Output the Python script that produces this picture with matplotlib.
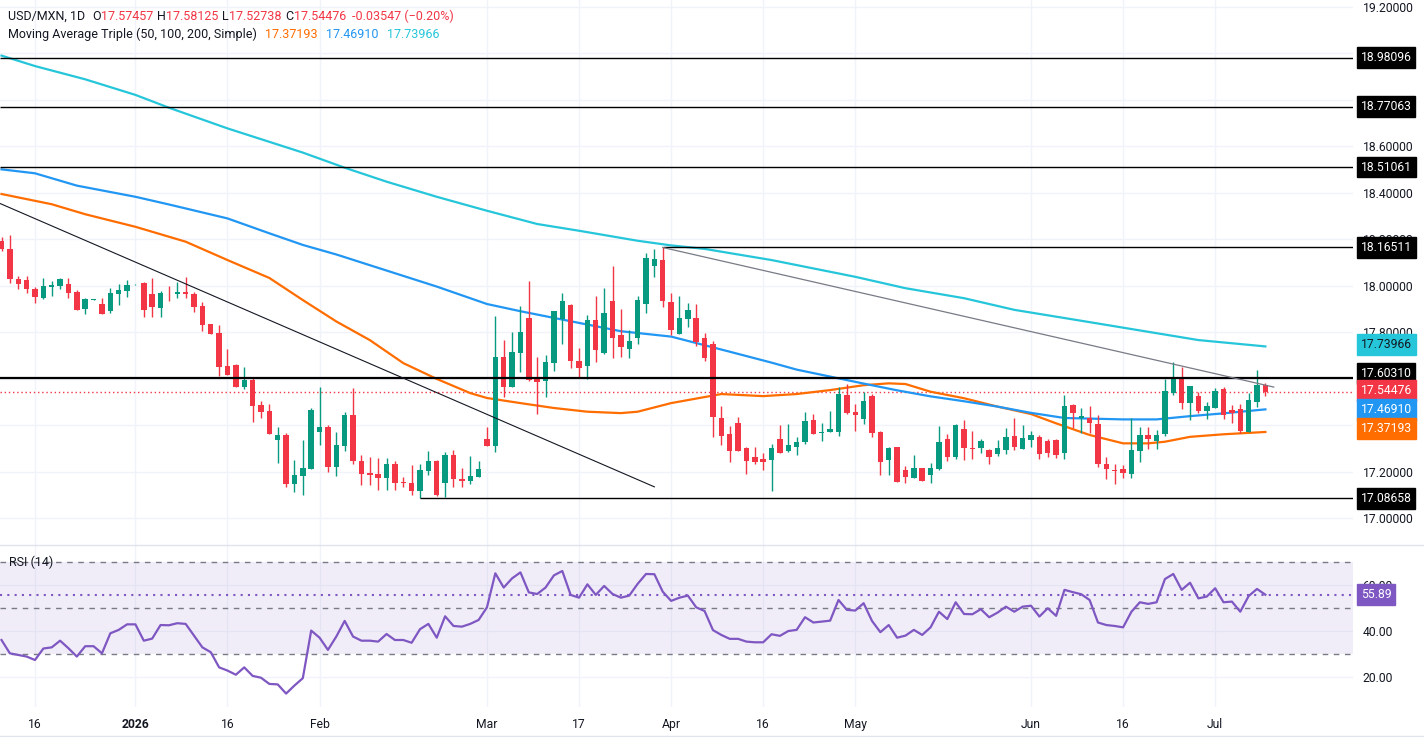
"""
USD/MXN daily candles with 50/100/200 SMA and RSI(14), TradingView style
"""

import numpy as np
import pandas as pd
import matplotlib
matplotlib.use('Agg')
import matplotlib.pyplot as plt
from matplotlib.lines import Line2D

plt.rcParams['font.family'] = ['Roboto', 'DejaVu Sans']

# ── Data ───────────────────────────────────────────────────────────────
DATES = pd.bdate_range('2025-12-10', periods=152)

OPEN = [
    18.194, 18.159, 18.028, 18.025, 17.985, 17.949, 17.997, 18.001, 18.008, 17.975,
    17.902, 17.941, 17.922, 17.892, 17.966, 17.979, 18.003, 18.014, 17.965, 17.906,
    17.970, 17.964, 17.974, 17.965, 17.913, 17.836, 17.797, 17.657, 17.661, 17.567,
    17.595, 17.488, 17.462, 17.337, 17.359, 17.150, 17.184, 17.213, 17.373, 17.393,
    17.220, 17.313, 17.445, 17.247, 17.194, 17.190, 17.175, 17.234, 17.158, 17.151,
    17.120, 17.206, 17.247, 17.154, 17.273, 17.170, 17.163, 17.180, 17.340, 17.313,
    17.694, 17.567, 17.713, 17.862, 17.598, 17.591, 17.667, 17.856, 17.918, 17.677,
    17.657, 17.853, 17.713, 17.935, 17.789, 17.730, 17.774, 17.923, 18.087, 18.111,
    17.931, 17.793, 17.859, 17.862, 17.774, 17.750, 17.431, 17.363, 17.410, 17.303,
    17.264, 17.256, 17.253, 17.340, 17.290, 17.306, 17.330, 17.423, 17.369, 17.373,
    17.373, 17.531, 17.458, 17.429, 17.528, 17.373, 17.251, 17.307, 17.208, 17.175,
    17.216, 17.188, 17.213, 17.340, 17.263, 17.383, 17.303, 17.304, 17.294, 17.277,
    17.294, 17.356, 17.300, 17.339, 17.350, 17.333, 17.336, 17.283, 17.488, 17.431,
    17.431, 17.406, 17.233, 17.208, 17.213, 17.193, 17.292, 17.357, 17.334, 17.365,
    17.538, 17.608, 17.495, 17.527, 17.463, 17.476, 17.557, 17.466, 17.471, 17.373,
    17.502, 17.57457,
]
HIGH = [
    18.210, 18.219, 18.042, 18.042, 17.997, 18.032, 18.021, 18.035, 18.032, 17.982,
    17.948, 17.944, 17.949, 17.991, 18.008, 18.025, 18.006, 18.018, 18.032, 17.979,
    17.999, 18.015, 18.040, 17.975, 17.932, 17.837, 17.832, 17.729, 17.664, 17.651,
    17.604, 17.507, 17.492, 17.395, 17.369, 17.253, 17.337, 17.474, 17.567, 17.402,
    17.373, 17.456, 17.562, 17.273, 17.266, 17.259, 17.259, 17.247, 17.180, 17.230,
    17.234, 17.292, 17.250, 17.284, 17.294, 17.216, 17.269, 17.247, 17.392, 17.870,
    17.767, 17.802, 17.913, 18.021, 17.693, 17.701, 17.894, 17.968, 17.920, 17.734,
    17.875, 17.956, 17.989, 18.085, 17.901, 17.810, 17.956, 18.143, 18.157, 18.165,
    17.971, 17.956, 17.925, 17.923, 17.796, 17.763, 17.484, 17.398, 17.436, 17.306,
    17.307, 17.280, 17.320, 17.402, 17.406, 17.350, 17.458, 17.451, 17.410, 17.462,
    17.564, 17.578, 17.492, 17.542, 17.535, 17.376, 17.309, 17.309, 17.226, 17.273,
    17.218, 17.240, 17.398, 17.363, 17.406, 17.422, 17.376, 17.343, 17.299, 17.337,
    17.387, 17.430, 17.402, 17.378, 17.359, 17.342, 17.342, 17.531, 17.494, 17.475,
    17.484, 17.443, 17.264, 17.234, 17.230, 17.431, 17.392, 17.392, 17.380, 17.598,
    17.671, 17.653, 17.571, 17.545, 17.502, 17.562, 17.567, 17.488, 17.492, 17.538,
    17.638, 17.58125,
]
LOW = [
    18.150, 18.011, 17.988, 17.968, 17.928, 17.944, 17.958, 17.988, 17.949, 17.896,
    17.881, 17.940, 17.881, 17.885, 17.919, 17.954, 18.002, 17.868, 17.868, 17.868,
    17.936, 17.949, 17.949, 17.889, 17.807, 17.795, 17.614, 17.618, 17.567, 17.558,
    17.416, 17.433, 17.363, 17.240, 17.134, 17.115, 17.101, 17.213, 17.316, 17.201,
    17.184, 17.292, 17.234, 17.144, 17.144, 17.122, 17.122, 17.122, 17.137, 17.101,
    17.087, 17.185, 17.098, 17.094, 17.134, 17.134, 17.147, 17.177, 17.313, 17.284,
    17.521, 17.565, 17.631, 17.593, 17.449, 17.521, 17.635, 17.750, 17.645, 17.605,
    17.598, 17.674, 17.706, 17.688, 17.696, 17.691, 17.749, 17.882, 18.037, 17.911,
    17.789, 17.792, 17.825, 17.742, 17.678, 17.352, 17.317, 17.244, 17.289, 17.193,
    17.236, 17.208, 17.120, 17.282, 17.287, 17.274, 17.322, 17.364, 17.334, 17.370,
    17.355, 17.449, 17.377, 17.406, 17.352, 17.187, 17.187, 17.157, 17.154, 17.175,
    17.162, 17.154, 17.208, 17.249, 17.256, 17.251, 17.256, 17.283, 17.234, 17.270,
    17.277, 17.294, 17.299, 17.309, 17.256, 17.266, 17.261, 17.256, 17.388, 17.369,
    17.369, 17.221, 17.171, 17.148, 17.175, 17.175, 17.244, 17.300, 17.300, 17.355,
    17.531, 17.471, 17.423, 17.455, 17.426, 17.475, 17.429, 17.412, 17.369, 17.370,
    17.481, 17.52738,
]
CLOSE = [
    18.157, 18.028, 18.007, 17.985, 17.951, 18.000, 18.004, 18.030, 17.971, 17.896,
    17.942, 17.943, 17.881, 17.969, 17.982, 18.004, 18.004, 17.896, 17.911, 17.969,
    17.968, 17.974, 17.966, 17.911, 17.832, 17.795, 17.653, 17.618, 17.567, 17.595,
    17.485, 17.459, 17.365, 17.359, 17.150, 17.187, 17.217, 17.466, 17.393, 17.220,
    17.316, 17.445, 17.249, 17.193, 17.188, 17.175, 17.234, 17.151, 17.151, 17.120,
    17.208, 17.247, 17.101, 17.273, 17.168, 17.163, 17.183, 17.213, 17.313, 17.694,
    17.567, 17.714, 17.802, 17.595, 17.588, 17.673, 17.892, 17.935, 17.678, 17.648,
    17.853, 17.726, 17.883, 17.777, 17.739, 17.764, 17.939, 18.118, 18.116, 17.935,
    17.810, 17.860, 17.895, 17.760, 17.688, 17.438, 17.356, 17.292, 17.290, 17.249,
    17.244, 17.244, 17.303, 17.283, 17.316, 17.329, 17.419, 17.365, 17.372, 17.385,
    17.535, 17.455, 17.446, 17.505, 17.366, 17.244, 17.303, 17.158, 17.180, 17.216,
    17.163, 17.216, 17.329, 17.266, 17.402, 17.304, 17.297, 17.333, 17.266, 17.302,
    17.350, 17.307, 17.346, 17.359, 17.279, 17.283, 17.274, 17.484, 17.455, 17.441,
    17.412, 17.236, 17.214, 17.206, 17.197, 17.294, 17.357, 17.342, 17.357, 17.548,
    17.600, 17.498, 17.570, 17.463, 17.484, 17.548, 17.445, 17.455, 17.376, 17.509,
    17.574, 17.54476,
]

RSI = [
    36.2, 30.4, 29.7, 29.0, 27.5, 32.5, 33.0, 35.9, 32.6, 29.0,
    33.5, 33.5, 30.4, 39.1, 40.6, 43.0, 43.0, 35.9, 36.8, 42.7,
    42.6, 43.5, 43.2, 38.1, 33.0, 30.9, 24.3, 22.9, 21.1, 24.3,
    20.6, 19.8, 17.1, 16.9, 12.9, 16.4, 19.6, 40.3, 37.2, 31.9,
    37.7, 44.5, 37.7, 35.9, 35.9, 35.5, 38.8, 36.2, 36.2, 35.0,
    40.9, 43.2, 37.2, 46.5, 42.3, 42.0, 43.2, 44.9, 50.4, 65.2,
    59.0, 63.0, 65.6, 56.9, 56.2, 59.0, 64.3, 66.2, 55.8, 54.6,
    60.4, 55.8, 59.7, 56.2, 54.6, 55.5, 60.6, 64.9, 64.8, 57.2,
    53.2, 54.6, 55.5, 50.4, 48.8, 40.5, 38.4, 36.7, 36.7, 35.5,
    35.2, 35.2, 38.7, 38.0, 40.1, 40.6, 46.1, 43.8, 44.2, 44.6,
    53.6, 49.3, 49.0, 52.2, 44.5, 39.6, 42.7, 37.2, 38.1, 40.6,
    38.4, 41.7, 48.5, 45.3, 52.6, 47.5, 47.4, 49.6, 46.1, 48.1,
    50.7, 48.5, 50.7, 51.1, 46.4, 50.0, 46.7, 58.0, 57.0, 56.1,
    53.6, 43.8, 42.7, 42.3, 41.7, 48.5, 52.6, 51.9, 52.6, 62.7,
    64.9, 58.0, 61.1, 54.3, 55.1, 58.7, 52.6, 52.9, 48.5, 55.3,
    58.4, 55.89,
]

# moving averages sampled at bar numbers
MA50_AT = [0, 6, 10, 16, 22, 27, 32, 36, 40, 44, 48, 52, 56, 58, 62, 66, 70, 74, 76, 80,
           86, 91, 95, 99, 103, 106, 108, 111, 115, 119, 123, 126, 130, 134, 137, 139,
           142, 146, 151]
MA50 = [18.395, 18.351, 18.308, 18.254, 18.190, 18.111, 18.034, 17.939, 17.847, 17.767,
        17.668, 17.600, 17.539, 17.518, 17.496, 17.475, 17.459, 17.453, 17.459, 17.496,
        17.535, 17.526, 17.535, 17.552, 17.573, 17.581, 17.578, 17.545, 17.517, 17.481,
        17.449, 17.409, 17.359, 17.323, 17.323, 17.330, 17.351, 17.362, 17.37193]
MA100_AT = [0, 4, 9, 16, 20, 27, 32, 36, 40, 46, 52, 58, 62, 68, 74, 80, 87, 92, 95, 99,
            103, 107, 111, 115, 119, 123, 127, 134, 138, 142, 146, 151]
MA100 = [18.501, 18.484, 18.431, 18.383, 18.350, 18.290, 18.226, 18.176, 18.135, 18.066,
         17.997, 17.922, 17.891, 17.848, 17.805, 17.782, 17.717, 17.670, 17.640, 17.610,
         17.580, 17.551, 17.525, 17.504, 17.481, 17.454, 17.432, 17.426, 17.426, 17.440,
         17.452, 17.46910]
MA200_AT = [0, 4, 10, 16, 20, 27, 36, 41, 46, 52, 58, 64, 69, 76, 80, 84, 92, 102, 108,
            115, 121, 129, 143, 151]
MA200 = [18.990, 18.945, 18.888, 18.821, 18.766, 18.677, 18.573, 18.508, 18.448, 18.383,
         18.323, 18.266, 18.237, 18.194, 18.174, 18.159, 18.111, 18.039, 17.990, 17.947,
         17.897, 17.850, 17.767, 17.73966]

# drawn levels: price and first bar number (None = full width)
LEVELS = [18.98096, 18.77063, 18.51061, 18.16511, 17.60310, 17.08658]
LEVEL_FROM = [None, None, None, 79, None, 50]
# trendlines: (bar0, price0, bar1, price1)
TREND_BLACK = (-1, 18.367, 78, 17.136)
TREND_GREY = (79, 18.16511, 152, 17.565)

# price ticks, blank where a level box covers the label completely
PRICE_TICKS = [17.0, 17.2, 17.4, 17.6, 17.8, 18.0, 18.2, 18.4, 18.6, 18.8, 19.0, 19.2]
HIDDEN_TICKS = [17.6, 19.0]

TICK_DATES = ['2025-12-16', '2026-01-01', '2026-01-16', '2026-02-02', '2026-03-02',
              '2026-03-17', '2026-04-01', '2026-04-16', '2026-05-01', '2026-06-01',
              '2026-06-16', '2026-07-01']
TICK_LABELS = ['16', '2026', '16', 'Feb', 'Mar', '17', 'Apr', '16', 'May', 'Jun', '16', 'Jul']

# ── Style ──────────────────────────────────────────────────────────────
UP, DOWN = '#089981', '#F23645'
C50, C100, C200 = '#FF6D00', '#2196F3', '#26C6DA'
PURPLE = '#7E57C2'
TXT = '#131722'
GRID = '#F0F3FA'
FS = 8.7

W, H = 1424, 737
PLOT_R = 1353
XLIM = (-0.18, -0.18 + PLOT_R / 8.37)

fig = plt.figure(figsize=(W / 100, H / 100), dpi=100)
fig.patch.set_facecolor('white')
ax = fig.add_axes([0, 1 - 545 / H, PLOT_R / W, 545 / H])
rx = fig.add_axes([0, 1 - 707 / H, PLOT_R / W, 162 / H])

pos = np.arange(len(DATES))
tick_pos = [DATES.get_loc(pd.Timestamp(d)) for d in TICK_DATES]

for a in (ax, rx):
    a.set_facecolor('white')
    for s in a.spines.values():
        s.set_visible(False)
    a.set_xlim(*XLIM)
    a.set_xticks(tick_pos)
    a.grid(True, color=GRID, lw=1, zorder=0)
    a.set_axisbelow(True)
    a.yaxis.tick_right()
    a.tick_params(axis='y', length=0, pad=7, labelsize=FS, labelcolor=TXT)
    a.tick_params(axis='x', length=0)

# ── Main pane ──────────────────────────────────────────────────────────
ax.set_ylim(16.886, 19.229)
ax.set_yticks(PRICE_TICKS)
ax.set_yticklabels(['' if t in HIDDEN_TICKS else f'{t:.5f}' for t in PRICE_TICKS])
ax.tick_params(axis='x', labelbottom=False)

o, h, l, c = (np.array(v) for v in (OPEN, HIGH, LOW, CLOSE))
cols = np.where(c >= o, UP, DOWN)
ax.vlines(pos, l, h, colors=cols, lw=1, zorder=4)
ax.bar(pos, np.maximum(np.abs(c - o), 0.0025), bottom=np.minimum(o, c),
       width=0.65, color=cols, lw=0, zorder=5)

ax.plot(MA50_AT, MA50, color=C50, lw=1.6, zorder=3)
ax.plot(MA100_AT, MA100, color=C100, lw=1.6, zorder=3)
ax.plot(MA200_AT, MA200, color=C200, lw=1.6, zorder=3)

for lv, start in zip(LEVELS, LEVEL_FROM):
    lw = 1.6 if lv == 17.60310 else 1.0
    x0 = XLIM[0] if start is None else start
    ax.hlines(lv, x0, XLIM[1], color='black', lw=lw, zorder=6)

b0, p0, b1, p1 = TREND_BLACK
ax.plot([b0, b1], [p0, p1], color='#131722', lw=0.8, zorder=6)
b0, p0, b1, p1 = TREND_GREY
ax.plot([b0, b1], [p0, p1], color='#787B86', lw=0.9, zorder=6)

ax.axhline(CLOSE[-1], color=DOWN, lw=1, ls=(0, (1, 2)), zorder=2)


def price_box(a, val, text, bg, fg='white', dy=0):
    a.annotate(text, xy=(1, val), xycoords=('axes fraction', 'data'),
               xytext=(5.5, dy), textcoords='offset points', ha='left', va='center',
               fontsize=FS, color=fg,
               bbox=dict(boxstyle='square,pad=0.32', fc=bg, ec=bg),
               annotation_clip=False, zorder=10)


for lv in LEVELS:
    price_box(ax, lv, f'{lv:.5f}', 'black', dy=3.2 if lv == 17.60310 else 0)
price_box(ax, MA200[-1], f'{MA200[-1]:.5f}', C200, fg=TXT, dy=1.5)
price_box(ax, CLOSE[-1], f'{CLOSE[-1]:.5f}', DOWN, dy=0.8)
price_box(ax, MA100[-1], f'{MA100[-1]:.5f}', C100)
price_box(ax, MA50[-1], f'{MA50[-1]:.5f}', C50, dy=2.5)

# ── RSI pane ───────────────────────────────────────────────────────────
rx.set_ylim(7.07, 77.5)
rx.set_yticks([20, 40, 60])
rx.yaxis.set_major_formatter(plt.FormatStrFormatter('%.2f'))
rx.fill_between(XLIM, 30, 70, color=PURPLE, alpha=0.1, lw=0, zorder=1)
for lv in (70, 50, 30):
    rx.axhline(lv, color='#787B86', lw=1, ls=(0, (4, 4)), zorder=2)
rx.axhline(RSI[-1], color=PURPLE, lw=1.5, ls=(0, (1, 2.5)), zorder=2)
rx.plot(pos, RSI, color=PURPLE, lw=1.6, zorder=4)
price_box(rx, RSI[-1], f'{RSI[-1]:.2f}', PURPLE)

rx.set_xticklabels(TICK_LABELS)
rx.tick_params(axis='x', pad=8, labelsize=FS, labelcolor=TXT)
for lab in rx.get_xticklabels():
    if lab.get_text() == '2026':
        lab.set_fontweight('bold')

# pane separators
for yy in (545, 736):
    fig.add_artist(Line2D([0, 1], [1 - yy / H] * 2, transform=fig.transFigure,
                          color='#E0E3EB', lw=1))


# ── Legends (coloured text runs) ───────────────────────────────────────
def text_run(parts, x_px, y_px):
    s, colr, _ = parts[0]
    prev = fig.text(x_px / W, 1 - y_px / H, s, color=colr, fontsize=FS + 0.3,
                    ha='left', va='center')
    for s, colr, gap in parts[1:]:
        prev = ax.annotate(s, xy=(1, 0.5), xycoords=prev, xytext=(gap, 0),
                           textcoords='offset points', ha='left', va='center',
                           color=colr, fontsize=FS + 0.3, annotation_clip=False)


text_run([('USD/MXN, 1D', TXT, 0), ('O', TXT, 5), ('17.57457', DOWN, 0),
          ('H', TXT, 3), ('17.58125', DOWN, 0), ('L', TXT, 3), ('17.52738', DOWN, 0),
          ('C', TXT, 3), ('17.54476', DOWN, 0), ('-0.03547 (\u22120.20%)', DOWN, 4)],
         8, 16)
text_run([('Moving Average Triple (50, 100, 200, Simple)', TXT, 0),
          (f'{MA50[-1]:.5f}', C50, 6), (f'{MA100[-1]:.5f}', C100, 6),
          (f'{MA200[-1]:.5f}', C200, 6)], 8, 34)
text_run([('RSI (14)', TXT, 0), (f'{RSI[-1]:.2f}', PURPLE, 4)], 9, 562)

fig.savefig('out.png', dpi=100, facecolor='white')
